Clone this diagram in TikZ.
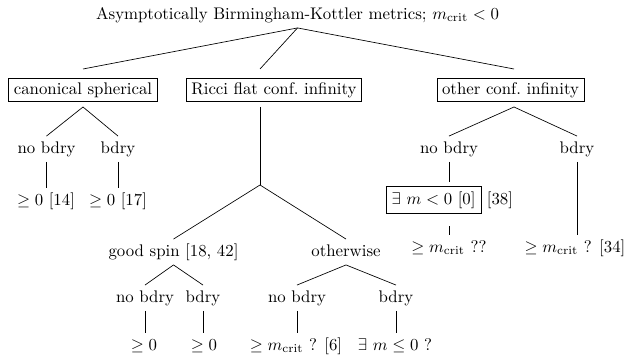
\documentclass[tikz,border=0pt]{standalone}
\begin{document}
\begin{tikzpicture}[x=0.595pt,y=-0.595pt,
  lbl/.style={inner sep=2.5pt, text height=7.5pt, text depth=2.5pt},
  boxed/.style={draw, inner xsep=3pt, inner ysep=2.4pt},
  fboxlbl/.style={inner sep=2pt},
  edge/.style={line width=0.4pt}]
\useasboundingbox (0,0) rectangle (627,358);
% level 0
\node[lbl] (root) at (297.5,15) {Asymptotically Birmingham-Kottler metrics; $m_{\mathrm{crit}}<0$};
% level 1
\node[boxed] (canon) at (83,90) {canonical spherical};
\node[boxed] (ricci) at (274,90) {Ricci flat conf.\ infinity};
\node[boxed] (other) at (510.5,90) {other conf.\ infinity};
\coordinate (canonin) at (83,69);
\coordinate (canonout) at (83,107);
\coordinate (ricciin) at (260,69);
\coordinate (ricciout) at (260,107);
\coordinate (fork) at (260,185);
\coordinate (otherin) at (514,69);
\coordinate (otherout) at (514,107);
% canonical spherical subtree
\node[lbl] (nbA) at (46.5,149) {no bdry};
\node[lbl] (bA) at (118,149) {bdry};
\node[lbl] (lA) at (46,201) {$\geq 0$ [14]};
\node[lbl] (lB) at (118,201) {$\geq 0$ [17]};
% Ricci flat subtree
\node[lbl] (gs) at (173.5,252) {good spin [18, 42]};
\node[lbl] (ow) at (346,252) {otherwise};
\node[lbl] (nbB) at (145,298) {no bdry};
\node[lbl] (bB) at (203,298) {bdry};
\node[lbl] (nbC) at (297,298) {no bdry};
\node[lbl] (bC) at (396,298) {bdry};
\node[lbl] (lC) at (144,346) {$\geq 0$};
\node[lbl] (lD) at (204,346) {$\geq 0$};
\node[lbl] (lE) at (296,346) {$\geq m_{\mathrm{crit}}$ ? [6]};
\node[lbl] (lF) at (395,346) {$\exists\ m \leq 0$ ?};
% other conf. infinity subtree
\node[lbl] (nbD) at (449,149) {no bdry};
\node[lbl] (bD) at (577,149) {bdry};
\node[fboxlbl] (ex) at (449.5,200) {\fbox{$\exists\ m<0$ [0]} [38]};
\node[lbl] (lX) at (449,248) {$\geq m_{\mathrm{crit}}$ ??};
\node[lbl] (lY) at (575,248) {$\geq m_{\mathrm{crit}}$ ? [34]};
\coordinate (exout) at ([yshift=-5pt]ex.south);
% edges
\draw[edge] (root.south) -- (canonin);
\draw[edge] (root.south) -- (ricciin);
\draw[edge] (root.south) -- (otherin);
\draw[edge] (canonout) -- (nbA.north);
\draw[edge] (canonout) -- (bA.north);
\draw[edge] (nbA.south) -- (nbA.south |- lA.north);
\draw[edge] (bA.south) -- (bA.south |- lB.north);
\draw[edge] (ricciout) -- (fork);
\draw[edge] (fork) -- (gs.north);
\draw[edge] (fork) -- (ow.north);
\draw[edge] (gs.south) -- (nbB.north);
\draw[edge] (gs.south) -- (bB.north);
\draw[edge] (ow.south) -- (nbC.north);
\draw[edge] (ow.south) -- (bC.north);
\draw[edge] (nbB.south) -- (nbB.south |- lC.north);
\draw[edge] (bB.south) -- (bB.south |- lD.north);
\draw[edge] (nbC.south) -- (nbC.south |- lE.north);
\draw[edge] (bC.south) -- (bC.south |- lF.north);
\draw[edge] (otherout) -- (nbD.north);
\draw[edge] (otherout) -- (bD.north);
\draw[edge] (nbD.south) -- (nbD.south |- ex.north);
\draw[edge] (nbD.south |- exout) -- (nbD.south |- lX.north);
\draw[edge] (bD.south) -- (bD.south |- lY.north);
\end{tikzpicture}
\end{document}
